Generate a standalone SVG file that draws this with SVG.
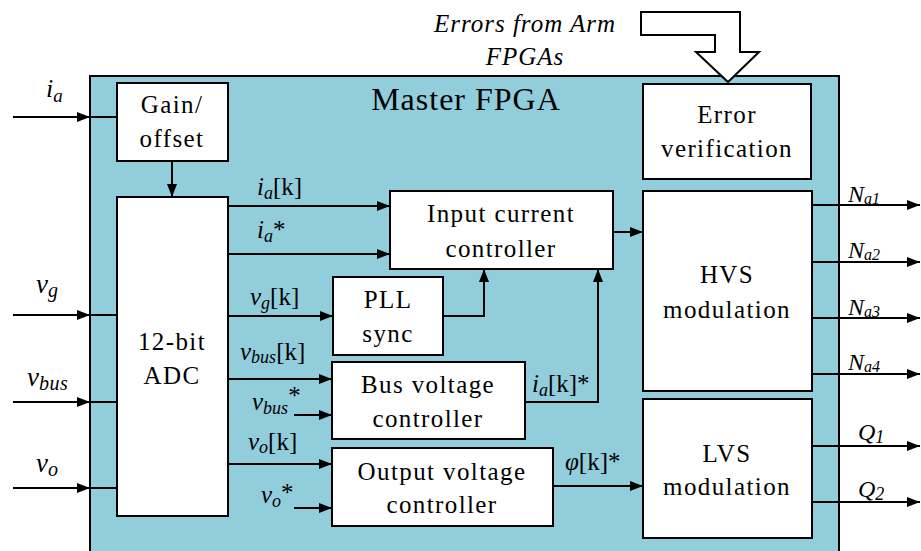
<svg xmlns="http://www.w3.org/2000/svg" width="921" height="551" viewBox="0 0 921 551" font-family="Liberation Serif, serif">
<style>
.bg{fill:#92CDDC;stroke:#000;stroke-width:2}
.box{fill:#fff;stroke:#000;stroke-width:2}
.ln{fill:none;stroke:#000;stroke-width:2}
.ar{fill:none;stroke:#000;stroke-width:2;marker-end:url(#ah)}
text{font-family:'Liberation Serif',serif !important}
.t{font-family:'Liberation Serif',serif !important;font-size:25px;letter-spacing:1.4px;text-anchor:middle;fill:#000}
.m{font-family:'Liberation Serif',serif !important;font-size:25px;font-style:italic;fill:#000}
.s{font-size:18px}
.u{font-style:normal}
</style>
<defs>
<marker id="ah" markerUnits="userSpaceOnUse" markerWidth="13" markerHeight="10" refX="13" refY="5" orient="auto">
<path d="M0,0 L13,5 L0,10 z" fill="#000"/>
</marker>
</defs>
<rect class="bg" x="90" y="76" width="749" height="490"/>
<text class="t" x="466" y="110" style="font-family:'Liberation Serif',serif;font-size:32px;letter-spacing:1px">Master FPGA</text>
<g id="errors-label">
<text class="m" x="525" y="32" text-anchor="middle" style="font-family:'Liberation Serif',serif;letter-spacing:1px">Errors from Arm</text>
<text class="m" x="525" y="65" text-anchor="middle" style="font-family:'Liberation Serif',serif;letter-spacing:1px">FPGAs</text>
</g>
<g id="connectors">
<polygon class="box" points="641,12 740,12 740,52 759,52 728,82 696,52 715,52 715,35 641,35"/>
<line class="ar" x1="13" y1="117" x2="90" y2="117"/>
<line class="ln" x1="90" y1="117" x2="117" y2="117"/>
<line class="ar" x1="13" y1="315" x2="90" y2="315"/>
<line class="ln" x1="90" y1="315" x2="117" y2="315"/>
<line class="ar" x1="13" y1="402" x2="90" y2="402"/>
<line class="ln" x1="90" y1="402" x2="117" y2="402"/>
<line class="ar" x1="13" y1="488" x2="90" y2="488"/>
<line class="ln" x1="90" y1="488" x2="117" y2="488"/>
<line class="ar" x1="172" y1="161" x2="172" y2="197"/>
<line class="ar" x1="228" y1="206" x2="390" y2="206"/>
<line class="ar" x1="228" y1="254" x2="390" y2="254"/>
<line class="ar" x1="228" y1="316" x2="333" y2="316"/>
<polyline class="ar" points="443,316 484,316 484,269"/>
<line class="ar" x1="228" y1="379" x2="332" y2="379"/>
<line class="ar" x1="294" y1="415" x2="332" y2="415"/>
<polyline class="ar" points="525,402 598,402 598,269"/>
<line class="ar" x1="228" y1="464" x2="332" y2="464"/>
<line class="ar" x1="294" y1="508" x2="332" y2="508"/>
<line class="ar" x1="553" y1="486" x2="643" y2="486"/>
<line class="ar" x1="613" y1="232" x2="643" y2="232"/>
<line class="ar" x1="812" y1="205" x2="920" y2="205"/>
<line class="ar" x1="812" y1="262" x2="920" y2="262"/>
<line class="ar" x1="812" y1="318" x2="920" y2="318"/>
<line class="ar" x1="812" y1="374" x2="920" y2="374"/>
<line class="ar" x1="812" y1="446" x2="920" y2="446"/>
<line class="ar" x1="812" y1="502" x2="920" y2="502"/>
</g>
<g id="signal-labels">
<text class="m" x="46" y="97" style="font-family:'Liberation Serif',serif;font-size:26px">i<tspan dy="5" style="font-size:19px">a</tspan></text>
<text class="m" x="36" y="293" style="font-family:'Liberation Serif',serif;font-size:27px">v<tspan dy="4" style="font-size:20px">g</tspan></text>
<text class="m" x="27" y="386" style="font-family:'Liberation Serif',serif;font-size:27px">v<tspan dy="4" style="font-size:20px;letter-spacing:0.5px">bus</tspan></text>
<text class="m" x="36" y="472" style="font-family:'Liberation Serif',serif;font-size:27px">v<tspan dy="4" style="font-size:20px">o</tspan></text>
<text class="m" x="257" y="195" style="font-family:'Liberation Serif',serif">i<tspan class="s" dy="4">a</tspan><tspan class="u" dy="-4">[k]</tspan></text>
<text class="m" x="257" y="238" style="font-family:'Liberation Serif',serif">i<tspan class="s" dy="4">a</tspan><tspan class="u" dy="-4">*</tspan></text>
<text class="m" x="250" y="305" style="font-family:'Liberation Serif',serif">v<tspan class="s" dy="4">g</tspan><tspan class="u" dy="-4">[k]</tspan></text>
<text class="m" x="240" y="360" style="font-family:'Liberation Serif',serif">v<tspan class="s" dy="3">bus</tspan><tspan class="u" dy="-3">[k]</tspan></text>
<text class="m" x="252" y="410" style="font-family:'Liberation Serif',serif">v<tspan class="s" dy="4">bus</tspan><tspan class="u" dy="-10">*</tspan></text>
<text class="m" x="248" y="450" style="font-family:'Liberation Serif',serif">v<tspan class="s" dy="3">o</tspan><tspan class="u" dy="-3">[k]</tspan></text>
<text class="m" x="261" y="503" style="font-family:'Liberation Serif',serif">v<tspan class="s" dy="4">o</tspan><tspan class="u" dy="-6">*</tspan></text>
<text class="m" x="532" y="392" style="font-family:'Liberation Serif',serif">i<tspan class="s" dy="4">a</tspan><tspan class="u" dy="-4">[k]*</tspan></text>
<text class="m" x="565" y="470" style="font-family:'Liberation Serif',serif">φ<tspan class="u">[k]*</tspan></text>
<text class="m" x="848" y="202" style="font-family:'Liberation Serif',serif;font-size:24px">N<tspan dy="2" style="font-size:16px">a1</tspan></text>
<text class="m" x="848" y="258" style="font-family:'Liberation Serif',serif;font-size:24px">N<tspan dy="2" style="font-size:16px">a2</tspan></text>
<text class="m" x="848" y="315" style="font-family:'Liberation Serif',serif;font-size:24px">N<tspan dy="2" style="font-size:16px">a3</tspan></text>
<text class="m" x="848" y="370" style="font-family:'Liberation Serif',serif;font-size:24px">N<tspan dy="2" style="font-size:16px">a4</tspan></text>
<text class="m" x="858" y="440" style="font-family:'Liberation Serif',serif;font-size:24px">Q<tspan class="s" dy="3">1</tspan></text>
<text class="m" x="858" y="497" style="font-family:'Liberation Serif',serif;font-size:24px">Q<tspan class="s" dy="3">2</tspan></text>
</g>
<g id="gain-offset">
<rect class="box" x="117" y="83" width="111" height="78"/>
<text class="t" x="172" y="113" style="font-family:'Liberation Serif',serif">Gain/</text>
<text class="t" x="172" y="147" style="font-family:'Liberation Serif',serif">offset</text>
</g>
<g id="adc">
<rect class="box" x="117" y="197" width="111" height="319"/>
<text class="t" x="172" y="350" style="font-family:'Liberation Serif',serif">12-bit</text>
<text class="t" x="172" y="384" style="font-family:'Liberation Serif',serif">ADC</text>
</g>
<g id="error-verification">
<rect class="box" x="643" y="84" width="168" height="95"/>
<text class="t" x="727" y="123" style="font-family:'Liberation Serif',serif">Error</text>
<text class="t" x="727" y="157" style="font-family:'Liberation Serif',serif">verification</text>
</g>
<g id="input-current-controller">
<rect class="box" x="390" y="191" width="223" height="78"/>
<text class="t" x="501" y="222" style="font-family:'Liberation Serif',serif">Input current</text>
<text class="t" x="501" y="257" style="font-family:'Liberation Serif',serif">controller</text>
</g>
<g id="pll-sync">
<rect class="box" x="333" y="277" width="110" height="78"/>
<text class="t" x="388" y="308" style="font-family:'Liberation Serif',serif">PLL</text>
<text class="t" x="388" y="342" style="font-family:'Liberation Serif',serif">sync</text>
</g>
<g id="bus-voltage-controller">
<rect class="box" x="332" y="362" width="193" height="77"/>
<text class="t" x="428" y="393" style="font-family:'Liberation Serif',serif">Bus voltage</text>
<text class="t" x="428" y="427" style="font-family:'Liberation Serif',serif">controller</text>
</g>
<g id="output-voltage-controller">
<rect class="box" x="332" y="448" width="221" height="78"/>
<text class="t" x="442" y="480" style="font-family:'Liberation Serif',serif">Output voltage</text>
<text class="t" x="442" y="513" style="font-family:'Liberation Serif',serif">controller</text>
</g>
<g id="hvs-modulation">
<rect class="box" x="643" y="191" width="169" height="200"/>
<text class="t" x="727" y="283" style="font-family:'Liberation Serif',serif">HVS</text>
<text class="t" x="727" y="318" style="font-family:'Liberation Serif',serif">modulation</text>
</g>
<g id="lvs-modulation">
<rect class="box" x="643" y="399" width="169" height="139"/>
<text class="t" x="727" y="462" style="font-family:'Liberation Serif',serif">LVS</text>
<text class="t" x="727" y="495" style="font-family:'Liberation Serif',serif">modulation</text>
</g>
</svg>
